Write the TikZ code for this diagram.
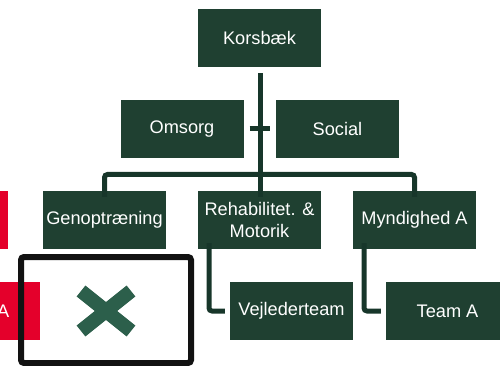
\documentclass[tikz,border=0pt]{standalone}
\usepackage{fontspec}
\setmainfont{Liberation Sans}
\begin{document}
\definecolor{boxgreen}{HTML}{1F4031}
\definecolor{linegreen}{HTML}{17362A}
\definecolor{crossgreen}{HTML}{2C5F4B}
\definecolor{unitred}{HTML}{E4002B}
\begin{tikzpicture}[x=1pt,y=-1pt,
  unit/.style={fill=boxgreen,text=white,minimum width=123pt,minimum height=58pt,
    inner sep=0pt,align=center,font=\fontsize{18.2}{21.5}\selectfont},
  redunit/.style={unit,fill=unitred},
  link/.style={draw=linegreen,line width=5pt,rounded corners=3pt}]
\useasboundingbox (0,0) rectangle (500,366);
\clip (0,0) rectangle (500,366);
% top level
\node[unit] (kors) at (259.5,38) {Korsbæk};
\node[unit] (omsorg) at (182,129) {Omsorg};
\node[unit] (social) at (337.5,129) {Social};
% second level
\node[unit] (geno) at (104.5,220) {Genoptræning};
\node[unit] (rehab) at (259.5,220) {Rehabilitet. \&\\Motorik};
\node[unit] (mynd) at (414.5,220) {Myndighed A};
% third level
\node[unit] (vejl) at (291.5,311) {Vejlederteam};
\node[unit] (teama) at (447.5,311) {Team A};
% neighbouring units at the left edge
\node[redunit] (redtop) at (-53.5,220) {Myndighed A};
\node[redunit] (redbot) at (-21.5,311) {Team A};
% connectors
\coordinate (bus) at (260,174.5);
\draw[link] ([yshift=-6pt]kors.south -| bus) -- ([yshift=-6pt]rehab.north -| bus);
\draw[link] ([xshift=6pt]omsorg.east) -- ([xshift=-6pt]social.east -| social.west);
\draw[link] ([yshift=-6pt]geno.north) |- (bus) -| ([yshift=-6pt]mynd.north);
\draw[link] ([yshift=6pt,xshift=-50.5pt]rehab.south) |- ([xshift=-5pt]vejl.west);
\draw[link] ([yshift=6pt,xshift=-50.5pt]mynd.south) |- ([xshift=-5pt]teama.west);
% removed position
\node[draw=black!93,line width=6pt,rounded corners=3pt,minimum width=170pt,minimum height=106pt,inner sep=0pt] (gone) at (106,310) {};
\coordinate (xc) at (gone.center |- vejl.center);
\draw[crossgreen,line width=14pt] ([shift={(-25pt,-20pt)}]xc) -- ([shift={(25pt,20pt)}]xc);
\draw[crossgreen,line width=14pt] ([shift={(-25pt,20pt)}]xc) -- ([shift={(25pt,-20pt)}]xc);
\end{tikzpicture}
\end{document}
